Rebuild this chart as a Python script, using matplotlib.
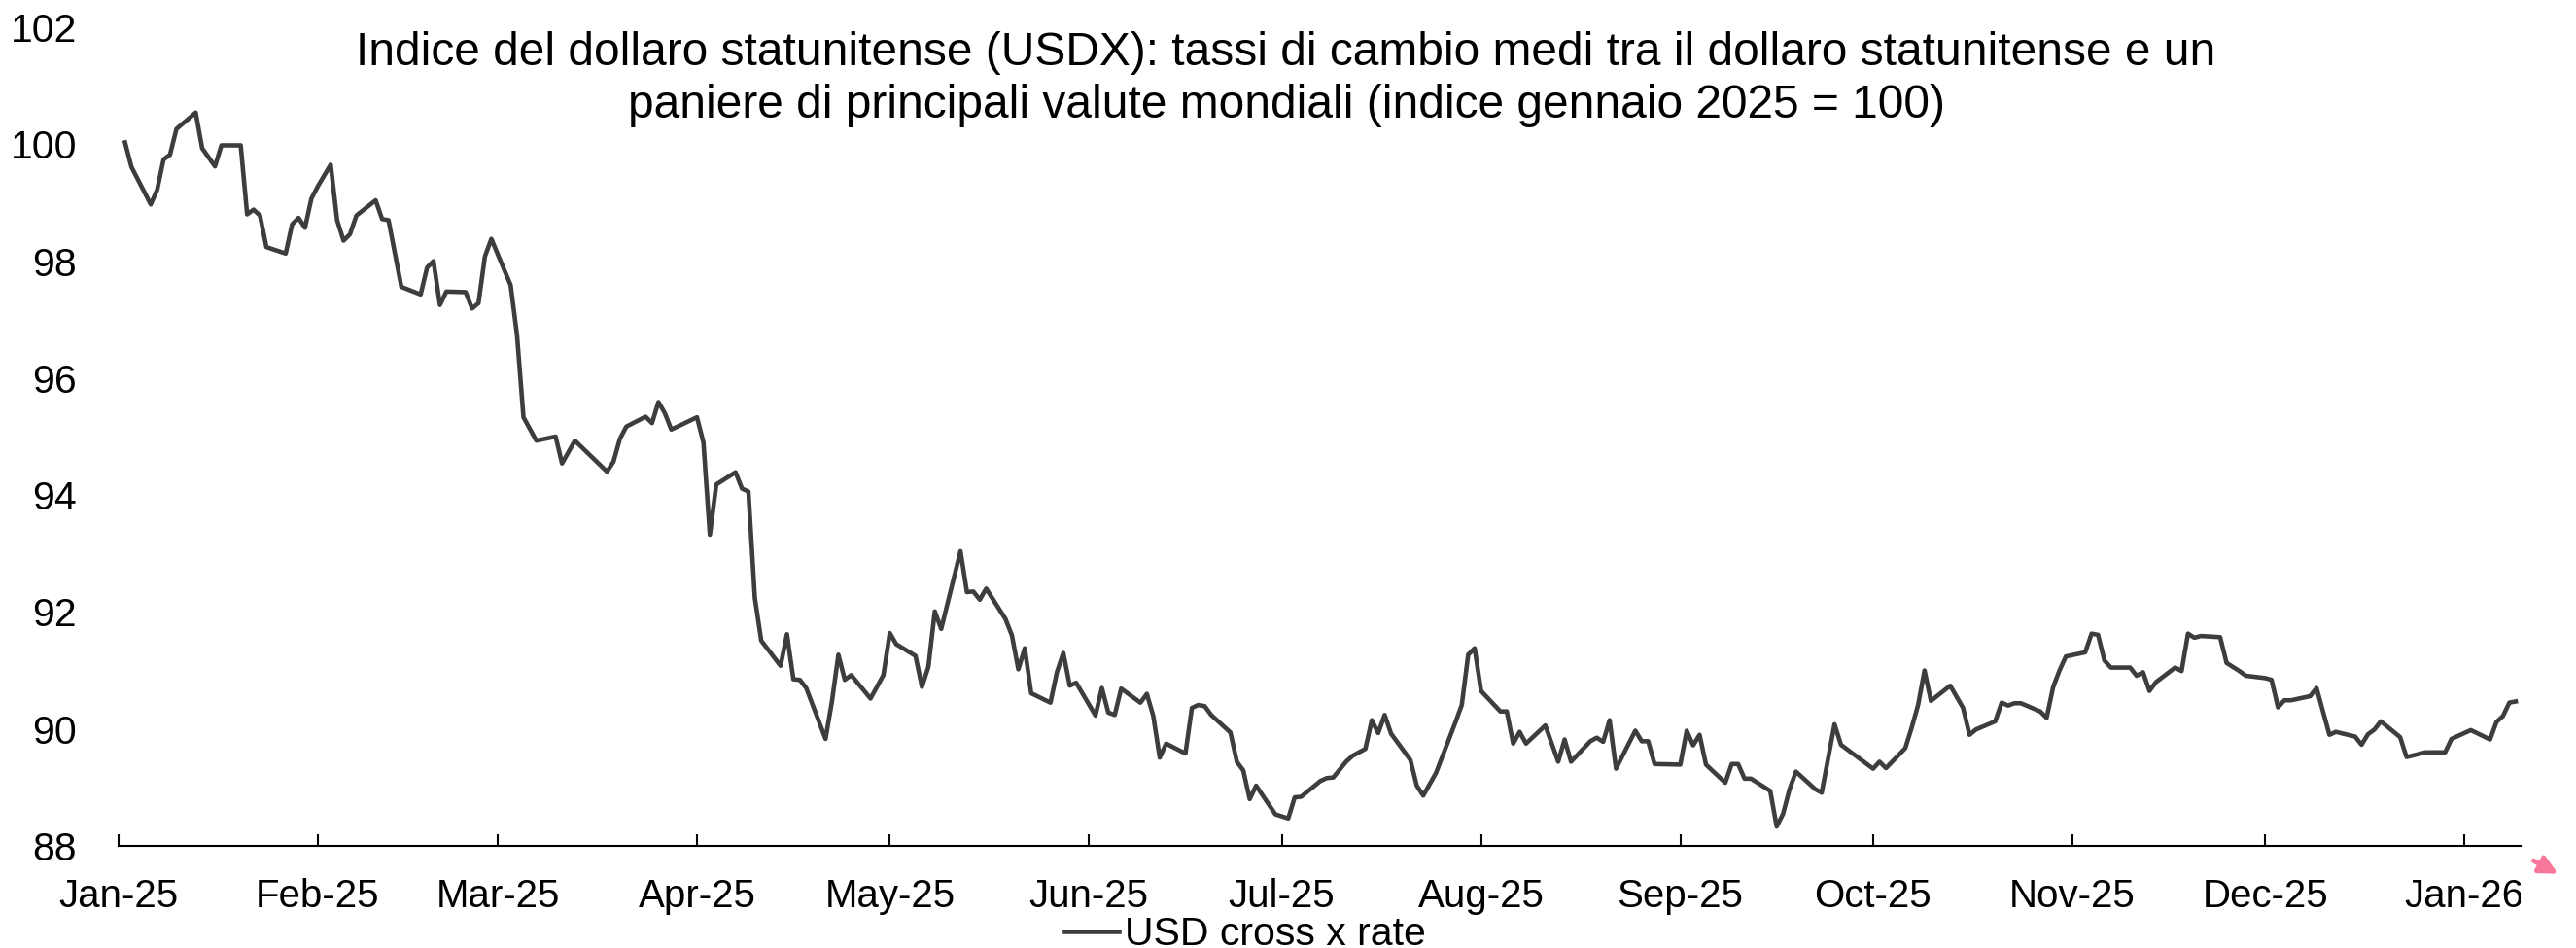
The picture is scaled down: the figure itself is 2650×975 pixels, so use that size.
import matplotlib
matplotlib.use("Agg")
import matplotlib.pyplot as plt
import matplotlib.dates as mdates
from matplotlib.transforms import Bbox
import pandas as pd

plt.rcParams['font.family'] = ['Liberation Sans', 'DejaVu Sans']

# dati (indice gennaio 2025 = 100)
dates = [
    "2025-01-02", "2025-01-03", "2025-01-06", "2025-01-07", "2025-01-08", "2025-01-09", "2025-01-10",
    "2025-01-13", "2025-01-14", "2025-01-16", "2025-01-17", "2025-01-20", "2025-01-21", "2025-01-22",
    "2025-01-23", "2025-01-24", "2025-01-27", "2025-01-28", "2025-01-29", "2025-01-30", "2025-01-31",
    "2025-02-01", "2025-02-03", "2025-02-04", "2025-02-05", "2025-02-06", "2025-02-07", "2025-02-10",
    "2025-02-11", "2025-02-12", "2025-02-14", "2025-02-17", "2025-02-18", "2025-02-19", "2025-02-20",
    "2025-02-21", "2025-02-24", "2025-02-25", "2025-02-26", "2025-02-27", "2025-02-28", "2025-03-03",
    "2025-03-04", "2025-03-05", "2025-03-07", "2025-03-10", "2025-03-11", "2025-03-13", "2025-03-18",
    "2025-03-19", "2025-03-20", "2025-03-21", "2025-03-24", "2025-03-25", "2025-03-26", "2025-03-27",
    "2025-03-28", "2025-04-01", "2025-04-02", "2025-04-03", "2025-04-04", "2025-04-07", "2025-04-08",
    "2025-04-09", "2025-04-10", "2025-04-11", "2025-04-14", "2025-04-15", "2025-04-16", "2025-04-17",
    "2025-04-18", "2025-04-21", "2025-04-22", "2025-04-23", "2025-04-24", "2025-04-25", "2025-04-28",
    "2025-04-30", "2025-05-01", "2025-05-02", "2025-05-05", "2025-05-06", "2025-05-07", "2025-05-08",
    "2025-05-09", "2025-05-12", "2025-05-13", "2025-05-14", "2025-05-15", "2025-05-16", "2025-05-19",
    "2025-05-20", "2025-05-21", "2025-05-22", "2025-05-23", "2025-05-26", "2025-05-27", "2025-05-28",
    "2025-05-29", "2025-05-30", "2025-06-02", "2025-06-03", "2025-06-04", "2025-06-05", "2025-06-06",
    "2025-06-09", "2025-06-10", "2025-06-11", "2025-06-12", "2025-06-13", "2025-06-16", "2025-06-17",
    "2025-06-18", "2025-06-19", "2025-06-20", "2025-06-23", "2025-06-24", "2025-06-25", "2025-06-26",
    "2025-06-27", "2025-06-30", "2025-07-02", "2025-07-03", "2025-07-04", "2025-07-07", "2025-07-08",
    "2025-07-09", "2025-07-11", "2025-07-12", "2025-07-14", "2025-07-15", "2025-07-16", "2025-07-17",
    "2025-07-18", "2025-07-21", "2025-07-22", "2025-07-23", "2025-07-25", "2025-07-28", "2025-07-29",
    "2025-07-30", "2025-07-31", "2025-08-01", "2025-08-04", "2025-08-05", "2025-08-06", "2025-08-07",
    "2025-08-08", "2025-08-11", "2025-08-13", "2025-08-14", "2025-08-15", "2025-08-18", "2025-08-19",
    "2025-08-20", "2025-08-21", "2025-08-22", "2025-08-25", "2025-08-26", "2025-08-27", "2025-08-28",
    "2025-09-01", "2025-09-02", "2025-09-03", "2025-09-04", "2025-09-05", "2025-09-08", "2025-09-09",
    "2025-09-10", "2025-09-11", "2025-09-12", "2025-09-15", "2025-09-16", "2025-09-17", "2025-09-18",
    "2025-09-19", "2025-09-22", "2025-09-23", "2025-09-25", "2025-09-26", "2025-10-01", "2025-10-02",
    "2025-10-03", "2025-10-06", "2025-10-07", "2025-10-08", "2025-10-09", "2025-10-10", "2025-10-13",
    "2025-10-15", "2025-10-16", "2025-10-17", "2025-10-20", "2025-10-21", "2025-10-22", "2025-10-23",
    "2025-10-24", "2025-10-27", "2025-10-28", "2025-10-29", "2025-10-30", "2025-10-31", "2025-11-03",
    "2025-11-04", "2025-11-05", "2025-11-06", "2025-11-07", "2025-11-10", "2025-11-11", "2025-11-12",
    "2025-11-13", "2025-11-14", "2025-11-17", "2025-11-18", "2025-11-19", "2025-11-20", "2025-11-21",
    "2025-11-24", "2025-11-25", "2025-11-27", "2025-11-28", "2025-12-01", "2025-12-02", "2025-12-03",
    "2025-12-04", "2025-12-05", "2025-12-08", "2025-12-09", "2025-12-11", "2025-12-12", "2025-12-15",
    "2025-12-16", "2025-12-17", "2025-12-18", "2025-12-19", "2025-12-22", "2025-12-23", "2025-12-26",
    "2025-12-29", "2025-12-30", "2026-01-02", "2026-01-05", "2026-01-06", "2026-01-07", "2026-01-08",
    "2026-01-09",
]
usd_cross = [
    100.03, 99.61, 98.97, 99.22, 99.74, 99.82, 100.26,
    100.54, 99.93, 99.62, 99.98, 99.98, 98.80, 98.88,
    98.78, 98.24, 98.13, 98.63, 98.74, 98.57, 99.07,
    99.28, 99.65, 98.70, 98.35, 98.46, 98.78, 99.04,
    98.72, 98.70, 97.56, 97.43, 97.89, 98.00, 97.25,
    97.48, 97.47, 97.19, 97.28, 98.08, 98.38, 97.59,
    96.73, 95.33, 94.93, 95.00, 94.54, 94.93, 94.40,
    94.57, 94.96, 95.17, 95.34, 95.23, 95.59, 95.40,
    95.12, 95.33, 94.90, 93.32, 94.18, 94.39, 94.11,
    94.06, 92.24, 91.51, 91.08, 91.62, 90.85, 90.84,
    90.70, 89.83, 90.47, 91.27, 90.84, 90.92, 90.52,
    90.92, 91.64, 91.45, 91.25, 90.72, 91.06, 92.01,
    91.71, 93.04, 92.34, 92.35, 92.21, 92.40, 91.88,
    91.60, 91.02, 91.38, 90.61, 90.45, 90.97, 91.30,
    90.74, 90.79, 90.23, 90.70, 90.28, 90.24, 90.69,
    90.45, 90.60, 90.22, 89.51, 89.75, 89.58, 90.36,
    90.41, 90.39, 90.24, 89.94, 89.44, 89.29, 88.80,
    89.03, 88.54, 88.47, 88.83, 88.84, 89.11, 89.16,
    89.17, 89.44, 89.54, 89.66, 90.15, 89.93, 90.24,
    89.92, 89.47, 89.03, 88.86, 89.25, 90.11, 90.41,
    91.27, 91.38, 90.65, 90.30, 90.30, 89.75, 89.95,
    89.75, 90.06, 89.44, 89.82, 89.44, 89.79, 89.85,
    89.78, 90.15, 89.32, 89.97, 89.79, 89.79, 89.40,
    89.39, 89.97, 89.72, 89.90, 89.39, 89.08, 89.40,
    89.40, 89.15, 89.15, 88.94, 88.33, 88.55, 88.97,
    89.27, 88.97, 88.91, 90.08, 89.73, 89.32, 89.44,
    89.33, 89.67, 90.02, 90.41, 91.00, 90.48, 90.74,
    90.36, 89.90, 89.99, 90.13, 90.45, 90.40, 90.44,
    90.44, 90.30, 90.19, 90.71, 91.00, 91.24, 91.31,
    91.63, 91.61, 91.17, 91.05, 91.05, 90.91, 90.97,
    90.65, 90.80, 91.05, 90.99, 91.63, 91.56, 91.59,
    91.57, 91.13, 90.99, 90.91, 90.87, 90.84, 90.37,
    90.49, 90.49, 90.56, 90.70, 89.90, 89.95, 89.87,
    89.73, 89.91, 89.99, 90.13, 89.86, 89.52, 89.60,
    89.60, 89.83, 89.98, 89.82, 90.12, 90.22, 90.45,
    90.47,
]
y_ticks = [88, 90, 92, 94, 96, 98, 100, 102]
title_lines = [
    "Indice del dollaro statunitense (USDX): tassi di cambio medi tra il dollaro statunitense e un",
    "paniere di principali valute mondiali (indice gennaio 2025 = 100)",
]
series_label = "USD cross x rate"

W, H = 2650, 975
fig = plt.figure(figsize=(W / 100, H / 100), dpi=100)
ax = fig.add_axes([122 / W, 105 / H, (2593 - 122) / W, (870 - 28) / H])

x = pd.to_datetime(dates)
ax.plot(x, usd_cross, color='#3c3d3c', lw=3.3, label=series_label)

ax.set_xlim(pd.Timestamp("2025-01-01"), pd.Timestamp("2026-01-09 18:00"))
ax.set_ylim(88, 102)
ax.set_yticks(y_ticks)
month_ticks = pd.date_range("2025-01-01", "2026-01-01", freq="MS")
ax.set_xticks(month_ticks)
ax.xaxis.set_major_formatter(mdates.DateFormatter("%b-%y"))

for s in ['top', 'right', 'left']:
    ax.spines[s].set_visible(False)
ax.spines['bottom'].set_linewidth(1.5)
ax.spines['bottom'].set_color('black')
ax.tick_params(axis='x', direction='in', length=8.5, width=1.5, pad=24, labelsize=29, colors='black')
ax.tick_params(axis='y', length=0, pad=31, labelsize=29.5, colors='black')

fig.text(1323 / W, 1 - 67 / H, title_lines[0], ha='center', va='baseline', fontsize=34.5)
fig.text(1323 / W, 1 - 121 / H, title_lines[1], ha='center', va='baseline', fontsize=34.5)

ax.legend(loc='center', bbox_to_anchor=(1281 / W, 1 - 961 / H), bbox_transform=fig.transFigure,
          frameon=False, fontsize=29.5, handlelength=1.35, handletextpad=0.15, borderpad=0,
          borderaxespad=0)

# freccia rosa in basso a destra
ax.annotate('', xy=(2634 / W, 1 - 900 / H), xytext=(2604 / W, 1 - 884 / H),
            xycoords='figure fraction', textcoords='figure fraction', annotation_clip=False,
            arrowprops=dict(arrowstyle='-|>', color='#f7789a', lw=3.5, mutation_scale=28))

# l'etichetta "Jan-26" è tagliata al bordo destro dell'asse
fig.canvas.draw()
clip = Bbox.from_extents(0, 0, ax.bbox.x1, fig.bbox.y1)
for lab in ax.get_xticklabels():
    lab.set_clip_box(clip)
    lab.set_clip_on(True)

fig.savefig("out.png", dpi=100)
